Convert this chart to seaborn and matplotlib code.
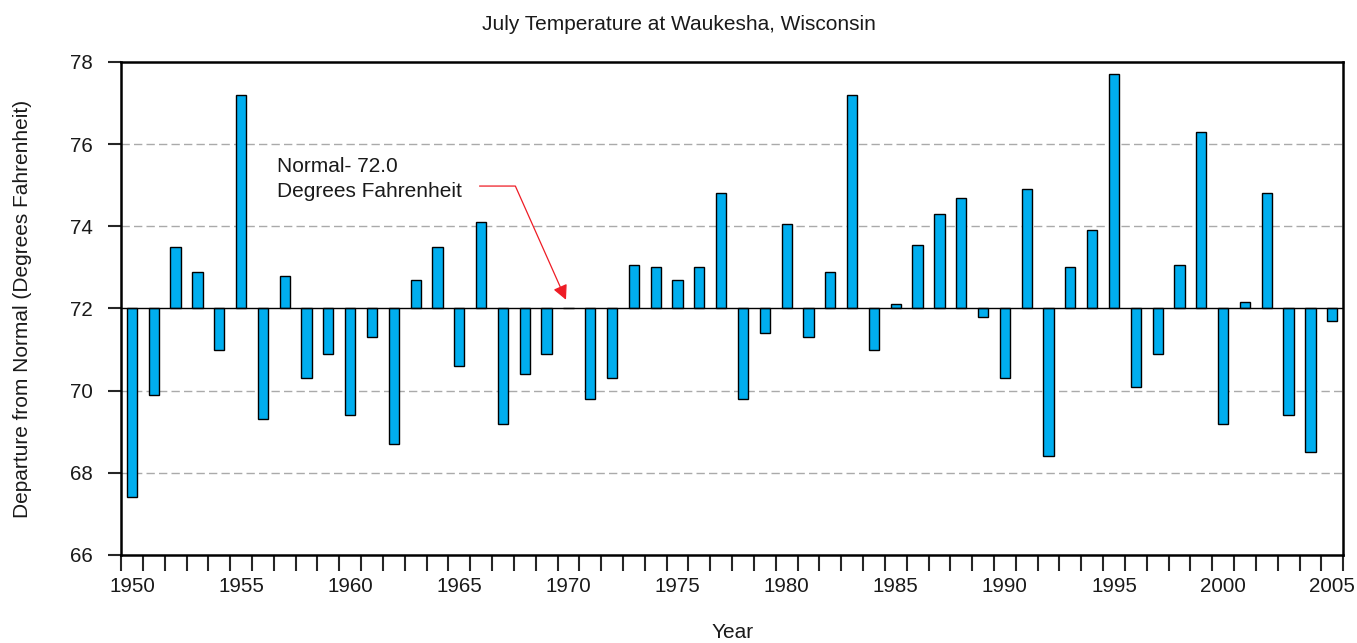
import numpy as np
import pandas as pd
import seaborn as sns
import matplotlib
matplotlib.use("Agg")
import matplotlib.pyplot as plt
from matplotlib.ticker import FixedLocator

# July mean temperature (deg F)
years = list(range(1950, 2006))
temps = [67.4, 69.9, 73.5, 72.9, 71.0, 77.2, 69.3, 72.8, 70.3, 70.9,
         69.4, 71.3, 68.7, 72.7, 73.5, 70.6, 74.1, 69.2, 70.4, 70.9,
         72.0, 69.8, 70.3, 73.05, 73.0, 72.7, 73.0, 74.8, 69.8, 71.4,
         74.05, 71.3, 72.9, 77.2, 71.0, 72.1, 73.55, 74.3, 74.7, 71.8,
         70.3, 74.9, 68.4, 73.0, 73.9, 77.7, 70.1, 70.9, 73.05, 76.3,
         69.2, 72.15, 74.8, 69.4, 68.5, 71.7]
normal = 72.0
label_years = [1950, 1955, 1960, 1965, 1970, 1975, 1980, 1985, 1990, 1995, 2000, 2005]

sns.set_style("white")
plt.rcParams['font.family'] = ['Liberation Sans', 'DejaVu Sans']
txt = '#1a1a1a'

df = pd.DataFrame({'year': years, 'temp': temps})
df['departure'] = df['temp'] - normal

fig = plt.figure(figsize=(13.57, 6.43), dpi=100)
ax = fig.add_axes([0.0892, 0.1369, 0.9006, 0.7667])

sns.barplot(data=df, x='year', y='departure', bottom=normal, color='#00AEEF',
            saturation=1, edgecolor='black', linewidth=1.0, width=0.47, ax=ax)

ax.set_ylim(66, 78)
ax.set_xlim(-0.5, len(years) - 0.5)

# grid and normal line
for g in [68, 70, 74, 76]:
    ax.axhline(g, color='#aaaaaa', lw=1.0, ls=(0, (6, 3)), zorder=0)
ax.axhline(normal, color='black', lw=1.0, zorder=3)

# ticks
ax.set_yticks(np.arange(66, 79, 2))
ax.tick_params(axis='y', length=9.5, width=1.5, pad=11, labelsize=14.8,
               labelcolor=txt, direction='out', left=True)
pos = [years.index(y) for y in label_years]
ax.set_xticks(pos)
ax.set_xticklabels([str(y) for y in label_years])
ax.xaxis.set_minor_locator(FixedLocator(np.arange(-0.5, len(years), 1.0)))
ax.tick_params(axis='x', which='major', length=0, pad=16, labelsize=14.8,
               labelcolor=txt)
ax.tick_params(axis='x', which='minor', length=11.5, width=1.5,
               direction='out', bottom=True)

for s in ax.spines.values():
    s.set_color('black')
    s.set_linewidth(1.8)

ax.set_xlabel('Year', fontsize=15, color=txt, labelpad=19)
ax.set_ylabel('Departure from Normal (Degrees Fahrenheit)', fontsize=15,
              color=txt, labelpad=27)
fig.text(0.5, 0.962, 'July Temperature at Waukesha, Wisconsin', fontsize=15,
         color=txt, ha='center', va='center')

# annotation
ax.text(6.65, 75.15, 'Normal- 72.0\nDegrees Fahrenheit', fontsize=15, color=txt,
        ha='left', va='center', linespacing=1.45)
ax.annotate('', xy=(years.index(1970) - 0.06, 72.15), xytext=(15.8, 74.98),
            arrowprops=dict(arrowstyle='-|>', color='#ee1c25', lw=0.9,
                            mutation_scale=22,
                            connectionstyle='angle,angleA=0,angleB=114,rad=0'))

fig.savefig('out.png', dpi=100)
